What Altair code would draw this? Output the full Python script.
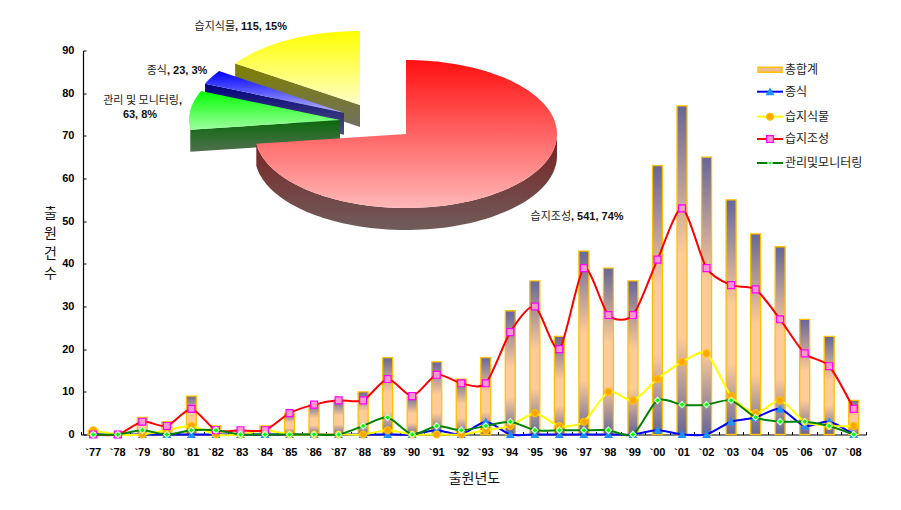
import math
import altair as alt

years = ["`77","`78","`79","`80","`81","`82","`83","`84","`85","`86","`87","`88","`89","`90","`91","`92",
         "`93","`94","`95","`96","`97","`98","`99","`00","`01","`02","`03","`04","`05","`06","`07","`08"]
total = [1,0,4,3,9,2,1,2,5,7,8,10,18,9,17,13,18,29,36,23,43,39,36,63,77,65,55,47,44,27,23,8]
seed  = [0,0,0,0,0,0,0,0,0,0,0,0,0,0,1,0,3,0,0,0,0,0,0,1,0,0,3,4,6,2,3,0]
plant = [1,0,0,1,2,0,0,1,0,0,0,0,1,0,0,0,1,2,5,2,3,10,8,13,17,19,9,5,8,3,2,2]
creat = [0,0,3,2,6,1,1,1,5,7,8,8,13,9,14,12,12,24,30,20,39,28,28,41,53,39,35,34,27,19,16,6]
mgmt  = [0,0,1,0,1,1,0,0,0,0,0,2,4,0,2,1,2,3,1,1,1,1,0,8,7,7,8,4,3,3,2,0]

pie_values = [541, 63, 23, 115]
pie_names = ["습지조성", "관리 및 모니터링", "종식", "습지식물"]
pie_tails = [", 541, 74%", ",", ", 23, 3%", ", 115, 15%"]
pie_second = "63, 8%"
legend_names = ["총합계", "종식", "습지식물", "습지조성", "관리및모니터링"]

X0, Y0, W, H = 83, 50.5, 785, 384
KFONT = "Noto Sans CJK KR"
LATIN = "Liberation Sans"


def grad(*colors):
    if len(colors) == 2:
        stops = [{"offset": 0, "color": colors[0]}, {"offset": 1, "color": colors[1]}]
    else:
        stops = [{"offset": o, "color": c} for o, c in colors]
    return {"gradient": "linear", "x1": 0, "y1": 0, "x2": 0, "y2": 1, "stops": stops}


rows = [dict(year=y, total=t, seed=s, plant=p, creat=c, mgmt=m)
        for y, t, s, p, c, m in zip(years, total, seed, plant, creat, mgmt)]
data = alt.Data(values=rows)
xscale = alt.Scale(type="band", domain=years, paddingInner=0, paddingOuter=0, range=[-2, W - 2])
yscale = alt.Scale(domain=[0, 90], nice=False)
NOAX = None

bar_fill = grad((0, "#666699"), (0.45, "#ffcc99"), (0.7, "#ffcc99"), (1, "#666699"))
bars = alt.Chart(data).mark_bar(size=10, fill=bar_fill, stroke="#ffc000", strokeWidth=1.3).encode(
    x=alt.X("year:N", scale=xscale, title="출원년도",
            axis=alt.Axis(orient="bottom", domain=False, ticks=False, labelAngle=0, labelPadding=12,
                          labelFont=LATIN, labelFontWeight="bold", labelFontSize=11, labelColor="#000",
                          titleFont=KFONT, titleFontSize=14, titleFontWeight="normal", titleColor="#111",
                          titlePadding=14, titleX=391)),
    y=alt.Y("total:Q", scale=yscale, title=["출", "원", "건", "수"],
            axis=alt.Axis(orient="left", domain=False, ticks=False, values=list(range(0, 100, 10)), grid=False,
                          labelPadding=9, labelFont=LATIN, labelFontWeight="bold", labelFontSize=11,
                          labelColor="#000", titleFont=KFONT, titleFontSize=14, titleFontWeight="normal",
                          titleColor="#111", titleAngle=0, titleLineHeight=20, titleX=-33, titleY=163,
                          titleAlign="center", titleBaseline="middle")),
)
axes2 = alt.Chart(data).mark_bar(size=1, opacity=0).encode(
    x=alt.X("year:N", scale=xscale, title=None,
            axis=alt.Axis(orient="top", offset=-H, labels=False, tickBand="extent", tickSize=3, tickWidth=1,
                          tickColor="#000", domainColor="#000", domainWidth=1.2)),
    y=alt.Y("total:Q", scale=yscale, title=None,
            axis=alt.Axis(orient="right", offset=-W, labels=False, values=list(range(0, 100, 10)), grid=False,
                          tickSize=3, tickWidth=1, tickColor="#000", domainColor="#000", domainWidth=1.2)),
)

series = [
    ("seed", "#0000ff", "triangle-up", "#1e90ff", "#1e90ff", 48),
    ("plant", "#ffff00", "circle", "#ffa500", "#ffc000", 48),
    ("creat", "#ff0000", "square", "#ff99cc", "#ff00ff", 48),
    ("mgmt", "#008000", "diamond", "#00ff00", "#ccffcc", 38),
]
layers = [bars, axes2]
for field, line, shape, fill, stroke, size in series:
    enc = dict(x=alt.X("year:N", scale=xscale, axis=NOAX), y=alt.Y(f"{field}:Q", scale=yscale, axis=NOAX))
    layers.append(alt.Chart(data).mark_line(color=line, strokeWidth=2, interpolate="cardinal", tension=0.25).encode(**enc))
    layers.append(alt.Chart(data).mark_point(shape=shape, fill=fill, stroke=stroke, strokeWidth=1.2, size=size,
                                             opacity=1, filled=False).encode(**enc))

# exploded 3-D pie, built from the slice values
RX, RY, DEPTH = 151, 74, 22


def ell(cx, cy, deg):
    a = math.radians(deg)
    return [cx + RX * math.sin(a) - X0, cy - RY * math.cos(a) - Y0]


def poly(pts, fill):
    ring = [list(p) for p in pts] + [list(pts[0])]
    feat = {"type": "Feature", "properties": {}, "geometry": {"type": "Polygon", "coordinates": [ring]}}
    return alt.Chart(alt.Data(values=[feat])).mark_geoshape(fill=fill, strokeWidth=0, clip=False).project(
        type="identity", scale=1, translate=[0, 0])


tot = sum(pie_values)
angles = [0]
for v in pie_values:
    angles.append(angles[-1] + v / tot * 360)

styles = [
    ((406, 134), "#ff1010", "#ffb8b8", "#7a1f1f", "#705c5c"),
    ((340, 120), "#00ff00", "#a0ffa0", "#0a6a0a", "#4f6f4f"),
    ((344, 112.7), "#0000ff", "#b4b4ff", "#000080", "#505078"),
    ((360, 105), "#ffff00", "#ffffc8", "#808000", "#707060"),
]


def slice_layers(i):
    (cx, cy), t0, t1, s0, s1 = styles[i]
    a0, a1 = angles[i], angles[i + 1]
    n = max(4, int((a1 - a0) / 2))
    arc = [ell(cx, cy, a0 + (a1 - a0) * k / n) for k in range(n + 1)]
    top = [[cx - X0, cy - Y0]] + arc
    if i == 0:
        m = 80
        upper = [ell(cx, cy, 90 + (a1 - 90) * k / m) for k in range(m + 1)]
        wall = upper + [[p[0], p[1] + DEPTH] for p in reversed(upper)]
    else:
        e = ell(cx, cy, a0)
        ap = [cx - X0, cy - Y0]
        wall = [e, ap, [ap[0], ap[1] + DEPTH], [e[0], e[1] + DEPTH]]
    return [poly(wall, grad(s0, s1)), poly(top, grad(t0, t1))]


for i in [3, 2, 1, 0]:
    layers += slice_layers(i)


def text(txt, px, py, font=LATIN, size=11, weight="bold", align="center", color="#111"):
    return alt.Chart(alt.Data(values=[{}])).mark_text(
        text=txt, font=font, fontSize=size, fontWeight=weight, align=align, baseline="middle", color=color
    ).encode(x=alt.value(px - X0), y=alt.value(py - Y0))


label_pos = [(571, 217), (179, 101), (167, 71), (235, 27)]
for name, tail, (sx, sy) in zip(pie_names, pie_tails, label_pos):
    layers.append(text(name, sx, sy, font=KFONT, weight="normal", align="right", color="#222"))
    layers.append(text(tail, sx, sy, align="left"))
layers.append(text(pie_second, 140, 115))

# legend
ly = [69.7, 91.7, 116.7, 139, 163]
empty = alt.Data(values=[{}])
layers.append(alt.Chart(empty).mark_rect(fill="#eebb90", stroke="#ffc000", strokeWidth=1.5).encode(
    x=alt.value(758 - X0), x2=alt.value(782 - X0), y=alt.value(ly[0] - 2.5 - Y0), y2=alt.value(ly[0] + 2.5 - Y0)))
layers.append(text(legend_names[0], 785, ly[0], font=KFONT, size=12, weight="normal", align="left", color="#222"))
for j, (field, line, shape, fill, stroke, size) in enumerate(series):
    yy = ly[j + 1]
    layers.append(alt.Chart(empty).mark_rule(color=line, strokeWidth=2).encode(
        x=alt.value(757 - X0), x2=alt.value(783 - X0), y=alt.value(yy - Y0)))
    layers.append(alt.Chart(empty).mark_point(shape=shape, fill=fill, stroke=stroke, strokeWidth=1.2,
                                              size=size - (18 if j == 3 else 0), opacity=1).encode(
        x=alt.value(770 - X0), y=alt.value(yy - Y0)))
    layers.append(text(legend_names[j + 1], 785, yy, font=KFONT, size=12, weight="normal", align="left", color="#222"))

chart = alt.layer(*layers).resolve_axis(x="independent", y="independent").properties(
    width=W, height=H,
    autosize=alt.AutoSizeParams(type="none"),
    padding={"left": X0 - 8, "top": Y0 - 8, "right": 20, "bottom": 60},
).configure_view(stroke=None)

chart.save("out.html", embed_options={"renderer": "svg", "actions": False})
